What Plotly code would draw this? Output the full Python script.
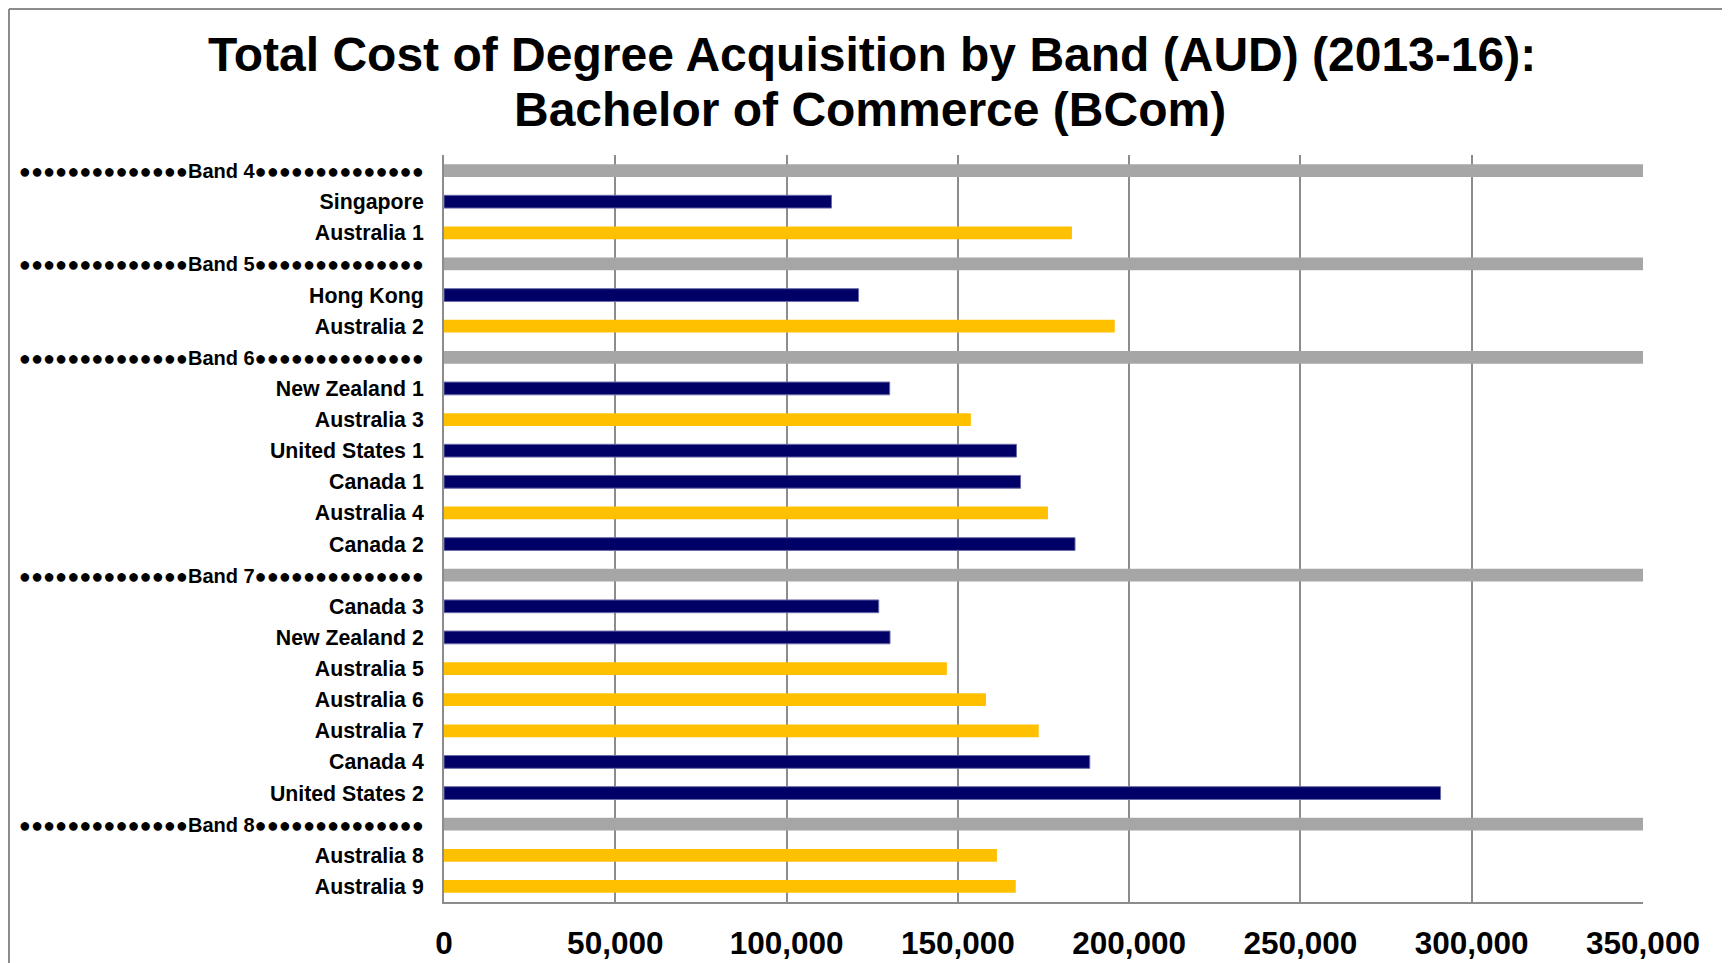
import plotly.graph_objects as go

DOTS = "\u25cf" * 14
categories = [
    DOTS + "Band 4" + DOTS, "Singapore", "Australia 1",
    DOTS + "Band 5" + DOTS, "Hong Kong", "Australia 2",
    DOTS + "Band 6" + DOTS, "New Zealand 1", "Australia 3", "United States 1",
    "Canada 1", "Australia 4", "Canada 2",
    DOTS + "Band 7" + DOTS, "Canada 3", "New Zealand 2", "Australia 5",
    "Australia 6", "Australia 7", "Canada 4", "United States 2",
    DOTS + "Band 8" + DOTS, "Australia 8", "Australia 9",
]
# None for band separator rows
values = [
    None, 113100, 183300,
    None, 121000, 195800,
    None, 130100, 153800, 167100, 168300, 176300, 184200,
    None, 126900, 130200, 146800, 158200, 173600, 188500, 290900,
    None, 161400, 166900,
]
band_bar_value = 350000
x_ticks = [0, 50000, 100000, 150000, 200000, 250000, 300000, 350000]
x_tick_labels = ["0", "50,000", "100,000", "150,000", "200,000", "250,000", "300,000", "350,000"]

NAVY = "#000066"
GOLD = "#FFC000"
GREY = "#A6A6A6"
FONT = "Liberation Sans, Arial, sans-serif"

tick_text = [
    ('<span style="font-size:20px">' + c + '</span>') if v is None else c
    for c, v in zip(categories, values)
]

band_y = [c for c, v in zip(categories, values) if v is None]
aus_y = [c for c, v in zip(categories, values) if v is not None and c.startswith("Australia")]
aus_x = [v for c, v in zip(categories, values) if v is not None and c.startswith("Australia")]
oth_y = [c for c, v in zip(categories, values) if v is not None and not c.startswith("Australia")]
oth_x = [v for c, v in zip(categories, values) if v is not None and not c.startswith("Australia")]

BW = 0.41
fig = go.Figure()
fig.add_trace(go.Bar(y=band_y, x=[band_bar_value] * len(band_y), orientation="h",
                     marker=dict(color=GREY, line=dict(width=0)), width=BW, name="Band"))
fig.add_trace(go.Bar(y=oth_y, x=oth_x, orientation="h",
                     marker=dict(color=NAVY, line=dict(color="#6a6aa8", width=1)), width=BW, name="Other"))
fig.add_trace(go.Bar(y=aus_y, x=aus_x, orientation="h",
                     marker=dict(color=GOLD, line=dict(width=0)), width=BW, name="Australia"))

# page is offset by the 8px body margin
OFF = 8
W, H = 1730, 963
L, T = 444 - OFF, 155 - OFF
R = W - (1643 - OFF)
B = H - (902 - OFF)
pw = W - L - R
ph = H - T - B

def px_x(p):
    return (p - OFF - L) / pw

def px_y(p):
    return (H - B - (p - OFF)) / ph

fig.update_layout(
    width=W, height=H,
    margin=dict(l=L, r=R, t=T, b=B, pad=0, autoexpand=False),
    paper_bgcolor="white", plot_bgcolor="white",
    showlegend=False, barmode="overlay",
    font=dict(family=FONT, color="black"),
    xaxis=dict(range=[0, 350000], tickvals=x_ticks, ticktext=x_tick_labels,
               showgrid=True, gridcolor="#8c8c8c", gridwidth=1.5,
               showline=True, linecolor="#8c8c8c", linewidth=2,
               ticks="", zeroline=False, ticklabelstandoff=12, automargin=False,
               tickfont=dict(family=FONT, size=31.5, weight="bold", color="black")),
    yaxis=dict(categoryorder="array", categoryarray=categories, range=[23.5, -0.5],
               tickmode="array", tickvals=categories, ticktext=tick_text,
               showgrid=False, showline=True, linecolor="#8c8c8c", linewidth=2,
               ticks="", ticklabelstandoff=14, automargin=False,
               tickfont=dict(family=FONT, size=21.3, weight="bold", color="black")),
    annotations=[
        dict(text="Total Cost of Degree Acquisition by Band (AUD) (2013-16):",
             xref="paper", yref="paper", x=px_x(872), y=px_y(55),
             xanchor="center", yanchor="middle", showarrow=False,
             font=dict(family=FONT, size=48, weight="bold", color="black")),
        dict(text="Bachelor of Commerce (BCom)",
             xref="paper", yref="paper", x=px_x(870), y=px_y(110),
             xanchor="center", yanchor="middle", showarrow=False,
             font=dict(family=FONT, size=48, weight="bold", color="black")),
    ],
    shapes=[
        dict(type="line", xref="paper", yref="paper", x0=px_x(9), x1=px_x(9),
             y0=px_y(9), y1=px_y(H + 40), line=dict(color="#8c8c8c", width=2)),
        dict(type="line", xref="paper", yref="paper", x0=px_x(9), x1=px_x(W + 40),
             y0=px_y(9), y1=px_y(9), line=dict(color="#8c8c8c", width=2)),
    ],
)

fig.write_html("out.html")
